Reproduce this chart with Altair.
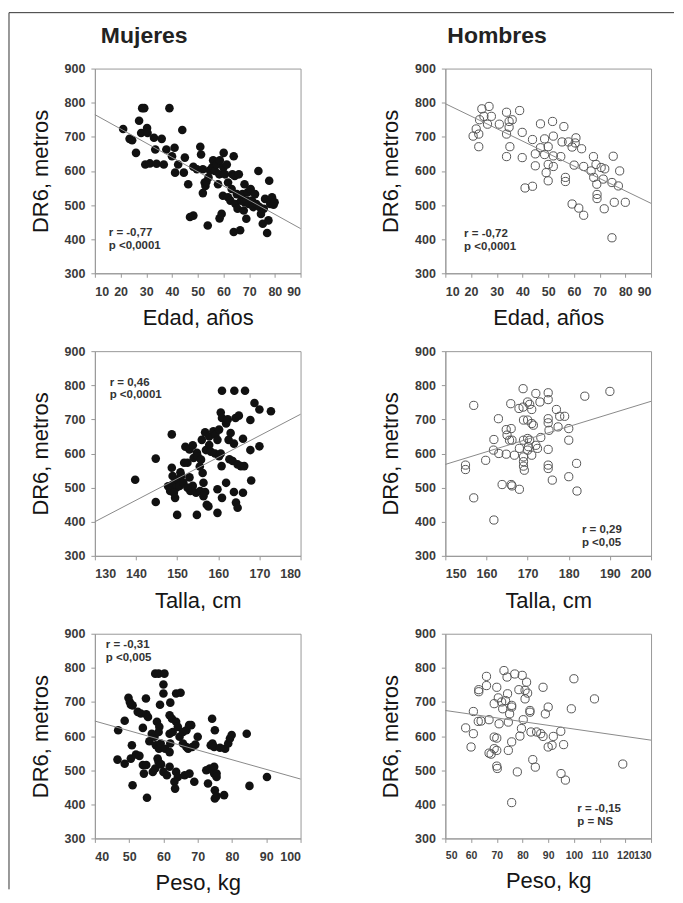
import altair as alt
import pandas as pd

FONT = "Liberation Sans"

# ---------------- data ----------------
# Mujeres - Edad
wa_x = [21, 23.5, 24.5, 26, 27.2, 28, 28.4, 29.2, 29.6, 30.3, 30.5, 31.4, 33, 33.5, 34, 36, 36.8, 37.8, 39, 40,
        41, 41.2, 42.4, 44, 44.6, 45, 46.3, 47, 48.3, 48.3, 49.7, 51, 51.3, 52, 52, 52.7, 53.9, 53, 53.4, 54.2,
        54.7, 55.6, 56, 56.7, 57.4, 57.9, 58.4, 58.6, 58.5, 59.3, 59.8, 60.1, 60, 60.6, 61.3, 61.8, 61.8, 62.7, 63.2, 63.5,
        64, 64, 64.4, 64.7, 65.2, 65.5, 66, 66.5, 66.9, 67.4, 67.9, 68.2, 68.2, 68.9, 69, 69.4, 69.9, 70.6, 71.1, 71.6,
        72.3, 72.8, 73.6, 74, 74.6, 75.3, 75.7, 76.2, 77, 77.5, 77.8, 78.2, 78.9, 79.5, 79.9]
wa_y = [723, 694, 690, 653, 747, 711, 784, 784, 619, 726, 711, 622, 697, 663, 621, 694, 619, 663, 784, 643,
        668, 595, 619, 720, 595, 639, 561, 465, 469, 612, 605, 671, 648, 605, 535, 566, 440, 556, 568, 581,
        602, 610, 631, 600, 619, 561, 590, 631, 461, 474, 527, 653, 610, 590, 619, 566, 523, 513, 547, 590,
        643, 421, 585, 503, 532, 489, 590, 426, 513, 532, 484, 561, 508, 460, 513, 537, 503, 547, 513, 494,
        532, 503, 600, 494, 474, 445, 489, 518, 418, 455, 571, 503, 523, 501, 508]

# Hombres - Edad
ma_x = [20.8, 22, 23, 23, 23.3, 24.2, 25, 26.4, 27, 27.9, 31, 33.8, 33.8, 34.8, 34.8, 36, 35.1, 33.8, 38.9, 39.9,
        39.9, 41, 43.9, 43.9, 45, 45, 47, 47, 48.6, 48.6, 49.2, 50, 50, 50, 51.7, 52, 52, 52, 54.9, 55.4,
        56.1, 56.7, 56.7, 57.9, 59.3, 59.3, 60.5, 60.8, 60.1, 61.9, 63, 63.8, 63.8, 66.7, 67.6, 67.7, 68.6, 68.9, 69, 69,
        70.6, 72, 71.8, 71.4, 75.3, 74.8, 75.7, 74.8, 77.3, 77.8, 80]
ma_y = [702, 723, 671, 708, 750, 782, 760, 737, 789, 760, 737, 772, 708, 745, 728, 750, 671, 642, 777, 713,
        639, 550, 555, 692, 650, 615, 738, 668, 648, 694, 595, 571, 619, 671, 745, 702, 613, 644, 642, 685,
        730, 581, 569, 685, 503, 670, 682, 697, 617, 491, 665, 470, 613, 600, 642, 581, 619, 561, 531, 519,
        610, 606, 489, 576, 643, 566, 508, 404, 556, 600, 508]

# Mujeres - Talla
wt_x = [139.8, 144.8, 144.8, 148.7, 148.7, 148.9, 150, 154.8, 159.8, 147.8, 149, 149.8, 150.2, 148.3, 149.2, 150.6,
        151, 149.5, 152, 153, 153.8, 152.5, 151.7, 154, 154.8, 155, 155.8, 155.5, 156.2, 153.2, 153.8, 154.6,
        155.6, 156.4, 156.8, 156.4, 157.2, 157.6, 156, 156.8, 157, 157.8, 158.2, 157.8, 158.8, 159.3, 159.8,
        160.2, 159.2, 160.2, 160.6, 160.8, 160.6, 160.9, 161.9, 162.3, 164.2, 165, 160.9, 163.9, 166.5, 159.8,
        160.9, 161.9, 163.8, 164.3, 164.7, 166, 168, 162.7, 163.5, 164.7, 165.5, 166.3, 163.8, 166, 167.8,
        168.8, 170, 170, 172.8, 167.8, 162.5, 163, 151.5, 152.5, 150.8, 153]
wt_y = [523, 585, 458, 656, 558, 534, 420, 420, 426, 504, 510, 500, 524, 490, 485, 505,
        535, 470, 620, 612, 624, 573, 573, 587, 602, 592, 582, 562, 543, 490, 505, 485,
        490, 514, 487, 475, 450, 445, 640, 662, 610, 625, 605, 650, 665, 655, 640,
        670, 600, 592, 600, 563, 720, 704, 688, 700, 704, 711, 784, 784, 784, 495,
        470, 514, 487, 456, 441, 485, 521, 583, 578, 568, 563, 563, 629, 643, 610,
        748, 729, 621, 724, 698, 640, 660, 515, 500, 545, 530]

# Hombres - Talla
mt_x = [154.9, 154.9, 156.9, 156.9, 159.8, 161.8, 161.8, 161.7, 162.9, 163, 163.8, 164.8, 164.8, 165, 166, 165.9,
        165.6, 166.2, 166, 166.2, 168, 166.8, 167.9, 168, 168.9, 168.9, 169, 170, 169, 170, 170.5, 169, 169.2,
        169, 169, 170, 170.5, 170, 170.2, 171, 171, 171.4, 172, 172, 172.4, 171, 173.2, 173, 175, 175, 175,
        175, 175.2, 175, 175, 175, 176, 177, 177.4, 177.8, 179, 180, 180, 180, 181.9, 182, 183.9, 190]
mt_y = [566, 553, 741, 470, 580, 641, 405, 610, 702, 600, 509, 598, 670, 654, 673, 746,
        639, 639, 509, 505, 495, 595, 732, 615, 790, 736, 698, 698, 639, 644, 639, 563, 551,
        590, 576, 751, 744, 610, 620, 729, 688, 683, 776, 624, 615, 595, 647, 751, 778, 758, 702,
        690, 668, 612, 566, 556, 522, 729, 678, 709, 709, 673, 639, 532, 571, 490, 768, 782]

# Mujeres - Peso
wp_x = [46.8, 46.6, 48.7, 48.7, 49.8, 50.2, 50.5, 51, 51, 50.8, 50.5, 52.5, 53.4, 52, 53, 54, 54.9, 55, 55.5, 55.2,
        54, 55, 54.3, 55.9, 56.6, 57.4, 56.9, 57.6, 58.3, 57.8, 58.7, 59.2, 58.1, 58.8, 58.6, 57.6, 58.6, 60.3,
        60, 60, 59, 62, 63.7, 65, 58.6, 59.3, 60, 61, 61.8, 60.5, 61.8, 62, 61.8, 62.7, 61.8, 62.5, 63.7, 64.2,
        63.2, 63.4, 63.7, 64.2, 64.7, 65.7, 66.7, 65.7, 66.7, 67.5, 68.1, 67.2, 68.4, 69.3, 66.2, 67.6, 69, 70,
        72.5, 73.5, 74.3, 74.8, 74.8, 73, 74.2, 75, 73.8, 74.3, 74.8, 75, 75, 75.5, 77.7, 76.5, 78, 78.9, 79.4,
        79.9, 84.3, 85.1, 90.2, 75.5, 75.5]
wp_y = [617, 531, 519, 645, 712, 700, 692, 690, 456, 573, 534, 671, 666, 546, 542, 624, 710, 664, 656, 419,
        515, 515, 490, 585, 607, 598, 495, 505, 534, 573, 563, 578, 642, 627, 612, 783, 783, 783,
        751, 725, 692, 698, 725, 727, 524, 517, 495, 485, 510, 563, 553, 578, 607, 612, 661, 651, 642, 627,
        466, 446, 495, 480, 598, 578, 568, 612, 617, 632, 632, 563, 568, 575, 485, 490, 466, 598,
        500, 505, 500, 510, 490, 461, 651, 617, 573, 578, 568, 441, 417, 424, 427, 566, 563, 578, 593,
        603, 607, 454, 480, 490, 480]

# Hombres - Peso
mp_x = [57.9, 60, 60.9, 60.9, 62.8, 63.9, 63, 63, 66, 66, 67, 67, 67.8, 69, 69, 70, 69, 70, 70, 70.2, 70, 70.6,
        70.9, 71.9, 72.3, 72.8, 74, 74.2, 73.4, 75.8, 75.8, 75, 74.5, 75.8, 74.5, 77, 78, 75.8, 78.6, 79.9, 81,
        81.6, 82, 81, 80.3, 79.6, 79, 82.9, 82.9, 83.3, 85.5, 87.1, 84, 85, 88, 88.9, 90, 90, 91.5, 92, 88,
        94.9, 96, 95, 96.7, 99, 100, 108, 119]
mp_y = [624, 568, 607, 672, 643, 644, 736, 730, 748, 775, 648, 550, 547, 695, 597, 594, 563, 558, 512, 505, 743, 712,
        636, 700, 680, 792, 773, 724, 704, 685, 690, 665, 641, 583, 558, 782, 495, 405, 736, 778, 734,
        758, 726, 709, 648, 622, 600, 670, 675, 612, 612, 607, 531, 509, 743, 665, 685, 568, 573, 599, 599,
        614, 575, 490, 471, 680, 768, 709, 518]

# regression line end points (x domain ends, y)
lines = {
    "wa": ([10, 90], [765, 431]),
    "ma": ([10, 90], [797, 505]),
    "wt": ([130, 180], [400, 715]),
    "mt": ([150, 200], [568, 753]),
    "wp": ([40, 100], [644, 474]),
    "mp": ([50, 130], [675, 588]),
}

# annotations: x, y of each line, text
annots = {
    "wa": (15.4, [419, 381], ["r = -0,77", "p <0,0001"]),
    "ma": (17.3, [416, 378], ["r = -0,72", "p <0,0001"]),
    "wt": (133.6, [808, 770], ["r = 0,46", "p <0,0001"]),
    "mt": (183.2, [376, 338], ["r = 0,29", "p <0,05"]),
    "wp": (43.2, [866, 828], ["r = -0,31", "p <0,005"]),
    "mp": (101.3, [385, 347], ["r = -0,15", "p = NS"]),
}

y_ticks = [300, 400, 500, 600, 700, 800, 900]

W, H = 206, 205


def panel(key, xs, ys, xdom, xtitle, filled, col_title=None, border=False, xlabel_size=12.5):
    pts = pd.DataFrame({"x": xs, "y": ys})
    lx, ly = lines[key]
    ln = pd.DataFrame({"x": lx, "y": ly})
    ax, ay, atxt = annots[key]
    an = pd.DataFrame({"x": [ax, ax], "y": ay, "t": atxt})

    xticks = list(range(xdom[0], xdom[1] + 1, 10))
    xscale = alt.Scale(domain=xdom, nice=False, zero=False)
    yscale = alt.Scale(domain=[300, 900], nice=False, zero=False)
    xaxis = alt.Axis(values=xticks, title=xtitle, labelOverlap=False, labelPadding=8,
                     titlePadding=10, grid=False, labelFontSize=xlabel_size)
    yaxis = alt.Axis(values=y_ticks, title="DR6, metros", labelPadding=6, titlePadding=12,
                     grid=False, labelOverlap=False)

    def X():
        return alt.X("x:Q", scale=xscale, axis=xaxis)

    def Y():
        return alt.Y("y:Q", scale=yscale, axis=yaxis)

    base = alt.Chart(pts)
    if filled:
        marks = base.mark_circle(size=74, color="#111111", opacity=1)
    else:
        marks = base.mark_point(shape="circle", size=68, filled=False, stroke="#555555",
                                strokeWidth=1, opacity=1)
    marks = marks.encode(x=X(), y=Y())

    rl = alt.Chart(ln).mark_line(color="#8a8a8a", strokeWidth=1).encode(x=X(), y=Y())
    tx = alt.Chart(an).mark_text(align="left", baseline="middle", font=FONT, fontSize=11.5,
                                 fontWeight="bold", color="#333333").encode(
        x=X(), y=Y(), text="t:N")
    layers = [marks, rl, tx]
    one = pd.DataFrame({"a": [0]})
    if border:
        bl = alt.Chart(one).mark_rule(color="#333333", strokeWidth=1).encode(
            x=alt.value(-86), y=alt.value(-56), y2=alt.value(822))
        bt = alt.Chart(one).mark_rule(color="#333333", strokeWidth=1).encode(
            x=alt.value(-86), x2=alt.value(580), y=alt.value(-56))
        layers += [bl, bt]
    if col_title is not None:
        ttl = alt.Chart(one).mark_text(align="left", baseline="alphabetic", font=FONT, fontSize=23,
                                       fontWeight="bold", color="#222222").encode(
            x=alt.value(col_title[1]), y=alt.value(-26), text=alt.value(col_title[0]))
        layers.append(ttl)
    return alt.layer(*layers).properties(width=W, height=H)


p1 = panel("wa", wa_x, wa_y, [10, 90], "Edad, años", True, ("Mujeres", 6), border=True)
p2 = panel("ma", ma_x, ma_y, [10, 90], "Edad, años", False, ("Hombres", 2))
p3 = panel("wt", wt_x, wt_y, [130, 180], "Talla, cm", True)
p4 = panel("mt", mt_x, mt_y, [150, 200], "Talla, cm", False)
p5 = panel("wp", wp_x, wp_y, [40, 100], "Peso, kg", True)
p6 = panel("mp", mp_x, mp_y, [50, 130], "Peso, kg", False, xlabel_size=10.5)

chart = alt.concat(p1, p2, p3, p4, p5, p6, columns=2, spacing={"row": 78, "column": 145},
                   bounds="flush").properties(
    padding={"left": 0, "top": 3, "right": 0, "bottom": 0},
    background="white",
).configure_view(stroke="#999999", strokeWidth=1).configure_axis(
    grid=False, labelFont=FONT, labelFontSize=12.5, labelFontWeight="bold", labelColor="#3a3a3a",
    tickColor="#999999", tickSize=4, domainColor="#999999",
    titleFont=FONT, titleFontSize=22, titleFontWeight="normal", titleColor="#151515"
)

chart.save("out.html", embed_options={"renderer": "svg", "actions": False})
